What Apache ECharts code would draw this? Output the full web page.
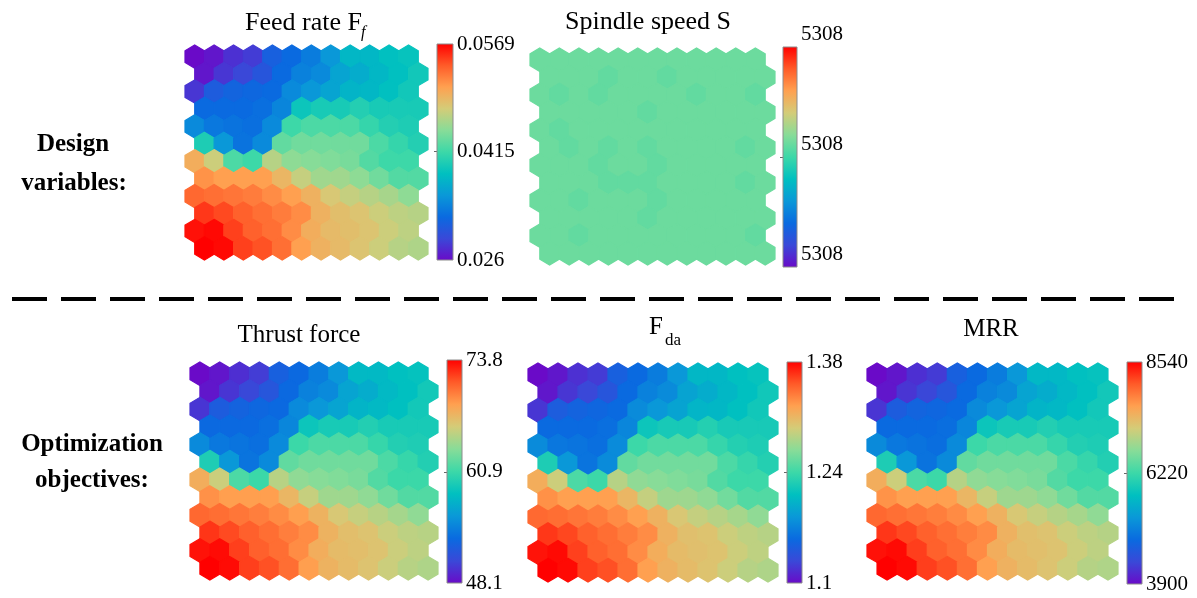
<!DOCTYPE html>
<html>
<head>
<meta charset="utf-8">
<title>SOM component planes</title>
<script src="https://cdn.jsdelivr.net/npm/echarts@6/dist/echarts.min.js"></script>
<style>
  html, body { margin: 0; padding: 0; background: #fff; }
  #main { width: 1197px; height: 598px; }
</style>
</head>
<body>
<div id="main"></div>
<script>
// 12 x 12 SOM neurons, row 0 = top row, odd rows shifted half a hexagon to the right
var feedRate = [
  [0.0260, 0.0266, 0.0279, 0.0285, 0.0313, 0.0322, 0.0334, 0.0353, 0.0377, 0.0377, 0.0384, 0.0387],
  [0.0266, 0.0282, 0.0291, 0.0303, 0.0322, 0.0337, 0.0343, 0.0362, 0.0368, 0.0377, 0.0384, 0.0393],
  [0.0282, 0.0309, 0.0316, 0.0319, 0.0322, 0.0343, 0.0353, 0.0362, 0.0374, 0.0377, 0.0384, 0.0393],
  [0.0322, 0.0322, 0.0322, 0.0325, 0.0340, 0.0390, 0.0396, 0.0396, 0.0402, 0.0396, 0.0396, 0.0396],
  [0.0343, 0.0331, 0.0328, 0.0325, 0.0343, 0.0415, 0.0421, 0.0421, 0.0421, 0.0411, 0.0402, 0.0399],
  [0.0399, 0.0353, 0.0328, 0.0343, 0.0430, 0.0436, 0.0436, 0.0436, 0.0436, 0.0421, 0.0411, 0.0402],
  [0.0498, 0.0473, 0.0421, 0.0415, 0.0464, 0.0448, 0.0445, 0.0442, 0.0439, 0.0424, 0.0415, 0.0415],
  [0.0513, 0.0507, 0.0507, 0.0507, 0.0492, 0.0470, 0.0455, 0.0455, 0.0448, 0.0436, 0.0424, 0.0424],
  [0.0532, 0.0529, 0.0526, 0.0523, 0.0516, 0.0507, 0.0495, 0.0479, 0.0470, 0.0464, 0.0458, 0.0448],
  [0.0550, 0.0544, 0.0535, 0.0529, 0.0523, 0.0516, 0.0495, 0.0486, 0.0482, 0.0473, 0.0467, 0.0464],
  [0.0563, 0.0566, 0.0547, 0.0535, 0.0529, 0.0516, 0.0498, 0.0489, 0.0486, 0.0482, 0.0473, 0.0467],
  [0.0569, 0.0566, 0.0547, 0.0541, 0.0529, 0.0507, 0.0495, 0.0489, 0.0482, 0.0473, 0.0464, 0.0461]
];

var spindleSpeed = [
  [5308.05, 5308.05, 5308.05, 5308.05, 5308.05, 5308.05, 5308.05, 5308.05, 5308.05, 5308.05, 5308.05, 5308.05],
  [5308.05, 5308.05, 5308.05, 5308.04, 5308.05, 5308.05, 5308.04, 5308.05, 5308.05, 5308.05, 5308.05, 5308.05],
  [5308.05, 5308.04, 5308.05, 5308.04, 5308.05, 5308.05, 5308.05, 5308.05, 5308.04, 5308.05, 5308.05, 5308.04],
  [5308.05, 5308.05, 5308.05, 5308.05, 5308.05, 5308.04, 5308.05, 5308.05, 5308.05, 5308.05, 5308.05, 5308.05],
  [5308.05, 5308.04, 5308.05, 5308.05, 5308.05, 5308.05, 5308.05, 5308.05, 5308.05, 5308.05, 5308.05, 5308.05],
  [5308.05, 5308.04, 5308.05, 5308.04, 5308.05, 5308.04, 5308.05, 5308.05, 5308.05, 5308.05, 5308.04, 5308.05],
  [5308.05, 5308.05, 5308.05, 5308.04, 5308.05, 5308.05, 5308.04, 5308.05, 5308.05, 5308.05, 5308.05, 5308.05],
  [5308.05, 5308.05, 5308.05, 5308.04, 5308.04, 5308.04, 5308.05, 5308.05, 5308.05, 5308.05, 5308.04, 5308.05],
  [5308.05, 5308.05, 5308.04, 5308.05, 5308.05, 5308.05, 5308.04, 5308.05, 5308.05, 5308.05, 5308.05, 5308.05],
  [5308.05, 5308.05, 5308.05, 5308.05, 5308.05, 5308.04, 5308.05, 5308.05, 5308.05, 5308.05, 5308.05, 5308.05],
  [5308.05, 5308.05, 5308.04, 5308.05, 5308.05, 5308.05, 5308.05, 5308.05, 5308.05, 5308.05, 5308.05, 5308.04],
  [5308.05, 5308.05, 5308.05, 5308.05, 5308.05, 5308.05, 5308.05, 5308.05, 5308.05, 5308.05, 5308.05, 5308.05]
];

var thrustForce = [
  [48.1, 48.6, 49.6, 50.2, 52.5, 53.2, 54.3, 55.8, 57.9, 57.9, 58.4, 58.6],
  [48.6, 49.9, 50.7, 51.7, 53.2, 54.5, 55.0, 56.6, 57.1, 57.9, 58.4, 59.2],
  [49.9, 52.2, 52.7, 53.0, 53.2, 55.0, 55.8, 56.6, 57.6, 57.9, 58.4, 59.2],
  [53.2, 53.2, 53.2, 53.5, 54.8, 58.9, 59.4, 59.4, 59.9, 59.4, 59.4, 59.4],
  [55.0, 54.0, 53.8, 53.5, 55.0, 60.9, 61.5, 61.5, 61.5, 60.7, 59.9, 59.7],
  [59.7, 55.8, 53.8, 55.0, 62.2, 62.7, 62.7, 62.7, 62.7, 61.5, 60.7, 59.9],
  [67.9, 65.8, 61.5, 60.9, 65.1, 63.8, 63.5, 63.3, 63.0, 61.7, 60.9, 60.9],
  [69.2, 68.7, 68.7, 68.7, 67.4, 65.6, 64.3, 64.3, 63.8, 62.7, 61.7, 61.7],
  [70.7, 70.5, 70.2, 69.9, 69.4, 68.7, 67.6, 66.3, 65.6, 65.1, 64.5, 63.8],
  [72.3, 71.7, 71.0, 70.5, 69.9, 69.4, 67.6, 66.9, 66.6, 65.8, 65.3, 65.1],
  [73.3, 73.5, 72.0, 71.0, 70.5, 69.4, 67.9, 67.1, 66.9, 66.6, 65.8, 65.3],
  [73.8, 73.5, 72.0, 71.5, 70.5, 68.7, 67.6, 67.1, 66.6, 65.8, 65.1, 64.8]
];

var fda = [
  [1.100, 1.106, 1.117, 1.122, 1.148, 1.156, 1.167, 1.184, 1.206, 1.206, 1.212, 1.215],
  [1.106, 1.120, 1.128, 1.139, 1.156, 1.170, 1.176, 1.192, 1.198, 1.206, 1.212, 1.220],
  [1.120, 1.145, 1.150, 1.153, 1.156, 1.176, 1.184, 1.192, 1.204, 1.206, 1.212, 1.220],
  [1.156, 1.156, 1.156, 1.159, 1.173, 1.218, 1.223, 1.223, 1.229, 1.223, 1.223, 1.223],
  [1.176, 1.164, 1.162, 1.159, 1.176, 1.240, 1.246, 1.246, 1.246, 1.237, 1.229, 1.226],
  [1.226, 1.184, 1.162, 1.176, 1.254, 1.260, 1.260, 1.260, 1.260, 1.246, 1.237, 1.229],
  [1.316, 1.293, 1.246, 1.240, 1.285, 1.271, 1.268, 1.265, 1.262, 1.248, 1.240, 1.240],
  [1.330, 1.324, 1.324, 1.324, 1.310, 1.290, 1.276, 1.276, 1.271, 1.260, 1.248, 1.248],
  [1.346, 1.344, 1.341, 1.338, 1.332, 1.324, 1.313, 1.299, 1.290, 1.285, 1.279, 1.271],
  [1.363, 1.358, 1.349, 1.344, 1.338, 1.332, 1.313, 1.304, 1.302, 1.293, 1.288, 1.285],
  [1.374, 1.377, 1.360, 1.349, 1.344, 1.332, 1.316, 1.307, 1.304, 1.302, 1.293, 1.288],
  [1.380, 1.377, 1.360, 1.355, 1.344, 1.324, 1.313, 1.307, 1.302, 1.293, 1.285, 1.282]
];

var mrr = [
  [3900, 3990, 4180, 4270, 4690, 4830, 5010, 5290, 5660, 5660, 5760, 5800],
  [3990, 4220, 4360, 4550, 4830, 5060, 5150, 5430, 5520, 5660, 5760, 5900],
  [4220, 4640, 4740, 4780, 4830, 5150, 5290, 5430, 5620, 5660, 5760, 5900],
  [4830, 4830, 4830, 4870, 5110, 5850, 5940, 5940, 6030, 5940, 5940, 5940],
  [5150, 4970, 4920, 4870, 5150, 6220, 6310, 6310, 6310, 6170, 6030, 5990],
  [5990, 5290, 4920, 5150, 6450, 6540, 6540, 6540, 6540, 6310, 6170, 6030],
  [7470, 7100, 6310, 6220, 6960, 6730, 6680, 6640, 6590, 6360, 6220, 6220],
  [7700, 7610, 7610, 7610, 7380, 7060, 6820, 6820, 6730, 6540, 6360, 6360],
  [7980, 7940, 7890, 7840, 7750, 7610, 7430, 7190, 7060, 6960, 6870, 6730],
  [8260, 8170, 8030, 7940, 7840, 7750, 7430, 7290, 7240, 7100, 7010, 6960],
  [8450, 8490, 8220, 8030, 7940, 7750, 7470, 7330, 7290, 7240, 7100, 7010],
  [8540, 8490, 8220, 8120, 7940, 7610, 7430, 7330, 7240, 7100, 6960, 6920]
];

// colour bar ranges and tick labels
var feedTicks = [0.026, 0.0415, 0.0569];
var spindleTicks = [5307.6, 5308, 5308.4];
var thrustTicks = [48.1, 60.9, 73.8];
var fdaTicks = [1.1, 1.24, 1.38];
var mrrTicks = [3900, 6220, 8540];

// colormap, low -> high
var colorMap = ['#6a0ac8', '#3a48d8', '#0a6ae0', '#0a98d8', '#00c0c0', '#3cd8a8',
                '#88dc98', '#d4cc78', '#ffa050', '#ff5a28', '#ff0000'];

var SERIF = '"Liberation Serif", "Times New Roman", serif';

var panels = [
  { data: feedRate, ticks: feedTicks, fmt: function (v) { return String(v); },
    hex: { left: 185, top: 45, width: 243, height: 215 }, bar: { left: 437, top: 44, width: 16, height: 216 }, shift: 0 },
  { data: spindleSpeed, ticks: spindleTicks, fmt: function (v) { return String(Math.round(v)); },
    hex: { left: 530, top: 48, width: 245, height: 217 }, bar: { left: 783, top: 47, width: 14, height: 220 }, shift: 10 },
  { data: thrustForce, ticks: thrustTicks, fmt: function (v) { return String(v); },
    hex: { left: 190, top: 362, width: 248, height: 218 }, bar: { left: 447, top: 360, width: 15, height: 223 }, shift: 0 },
  { data: fda, ticks: fdaTicks, fmt: function (v) { return String(v); },
    hex: { left: 528, top: 363, width: 250, height: 219 }, bar: { left: 787, top: 362, width: 15, height: 221 }, shift: 0 },
  { data: mrr, ticks: mrrTicks, fmt: function (v) { return String(v); },
    hex: { left: 867, top: 363, width: 251, height: 217 }, bar: { left: 1127, top: 362, width: 15, height: 222 }, shift: 0 }
];

// flatten a grid into [col, row, value]
function toHexData(grid) {
  var out = [];
  for (var r = 0; r < grid.length; r++) {
    for (var c = 0; c < grid[r].length; c++) {
      out.push([c, r, grid[r][c]]);
    }
  }
  return out;
}

// pointy-top hexagon around neuron (col,row)
function renderHex(params, api) {
  var c = api.value(0), r = api.value(1);
  var cx = c + (r % 2 ? 0.5 : 0);
  var pts = [
    [cx, r - 2 / 3], [cx + 0.5, r - 1 / 3], [cx + 0.5, r + 1 / 3],
    [cx, r + 2 / 3], [cx - 0.5, r + 1 / 3], [cx - 0.5, r - 1 / 3]
  ].map(function (p) { return api.coord(p); });
  var col = api.visual('color');
  return {
    type: 'polygon',
    shape: { points: pts },
    style: { fill: col, stroke: col, lineWidth: 1.2 }
  };
}

var barStops = colorMap.slice().reverse().map(function (c, i, arr) {
  return { offset: i / (arr.length - 1), color: c };
});

function renderBar(params, api) {
  var p0 = api.coord([0, api.value(2)]);
  var p1 = api.coord([1, api.value(1)]);
  return {
    type: 'rect',
    shape: { x: p0[0], y: p0[1], width: p1[0] - p0[0], height: p1[1] - p0[1] },
    style: {
      fill: new echarts.graphic.LinearGradient(0, 0, 0, 1, barStops),
      stroke: '#8c8c8c', lineWidth: 1
    }
  };
}

var grids = [], xAxes = [], yAxes = [], series = [], visualMaps = [];

panels.forEach(function (p, i) {
  var lo = p.ticks[0], hi = p.ticks[p.ticks.length - 1];
  var mid = p.ticks[1];

  // hexagon map
  grids.push(p.hex);
  xAxes.push({ type: 'value', gridIndex: 2 * i, min: -0.5, max: 12, show: false });
  yAxes.push({ type: 'value', gridIndex: 2 * i, min: -2 / 3, max: 11 + 2 / 3, inverse: true, show: false });
  series.push({
    type: 'custom', xAxisIndex: 2 * i, yAxisIndex: 2 * i,
    renderItem: renderHex, data: toHexData(p.data),
    encode: { x: 0, y: 1 }, silent: true
  });
  visualMaps.push({
    type: 'continuous', show: false, seriesIndex: 2 * i, dimension: 2,
    min: lo, max: hi, inRange: { color: colorMap }
  });

  // colour bar
  grids.push(p.bar);
  xAxes.push({ type: 'value', gridIndex: 2 * i + 1, min: 0, max: 1, show: false });
  yAxes.push({
    type: 'value', gridIndex: 2 * i + 1, min: lo, max: hi, position: 'right',
    axisLine: { show: false },
    splitLine: { show: false },
    axisTick: { show: true, inside: true, length: 3, customValues: [mid], lineStyle: { color: '#666' } },
    axisLabel: {
      customValues: p.ticks, formatter: p.fmt, margin: 4,
      fontFamily: SERIF, fontSize: 21, color: '#000',
      verticalAlign: p.shift ? 'bottom' : 'middle',
      padding: p.shift ? [0, 0, 2, 0] : 0
    }
  });
  series.push({
    type: 'custom', xAxisIndex: 2 * i + 1, yAxisIndex: 2 * i + 1,
    renderItem: renderBar, data: [[0, lo, hi]], silent: true
  });
});

function txt(x, y, s, font, align) {
  return {
    type: 'text', x: x, y: y, silent: true,
    style: { text: s, font: font, fill: '#000', align: align || 'center', verticalAlign: 'middle' }
  };
}

var titleFont = '25px ' + SERIF;
var subFont = 'italic 16px ' + SERIF;
var boldFont = 'bold 25px ' + SERIF;

var chart = echarts.init(document.getElementById('main'), null, { renderer: 'canvas' });
chart.setOption({
  backgroundColor: '#fff',
  animation: false,
  grid: grids,
  xAxis: xAxes,
  yAxis: yAxes,
  visualMap: visualMaps,
  series: series,
  graphic: [
    txt(245, 23, 'Feed rate F', '26px ' + SERIF, 'left'),
    txt(361, 33, 'f', subFont, 'left'),
    txt(648, 22, 'Spindle speed S', '26px ' + SERIF),
    txt(299, 335, 'Thrust force', titleFont),
    txt(649, 327, 'F', titleFont, 'left'),
    txt(665, 341, 'da', '17px ' + SERIF, 'left'),
    txt(991, 329, 'MRR', titleFont),
    txt(73, 145, 'Design', boldFont),
    txt(74, 184, 'variables:', boldFont),
    txt(92, 445, 'Optimization', boldFont),
    txt(92, 481, 'objectives:', boldFont),
    {
      type: 'line', silent: true,
      shape: { x1: 12, y1: 299, x2: 1176, y2: 299 },
      style: { stroke: '#000', lineWidth: 4, lineDash: [35, 14] }
    }
  ]
});
</script>
</body>
</html>
